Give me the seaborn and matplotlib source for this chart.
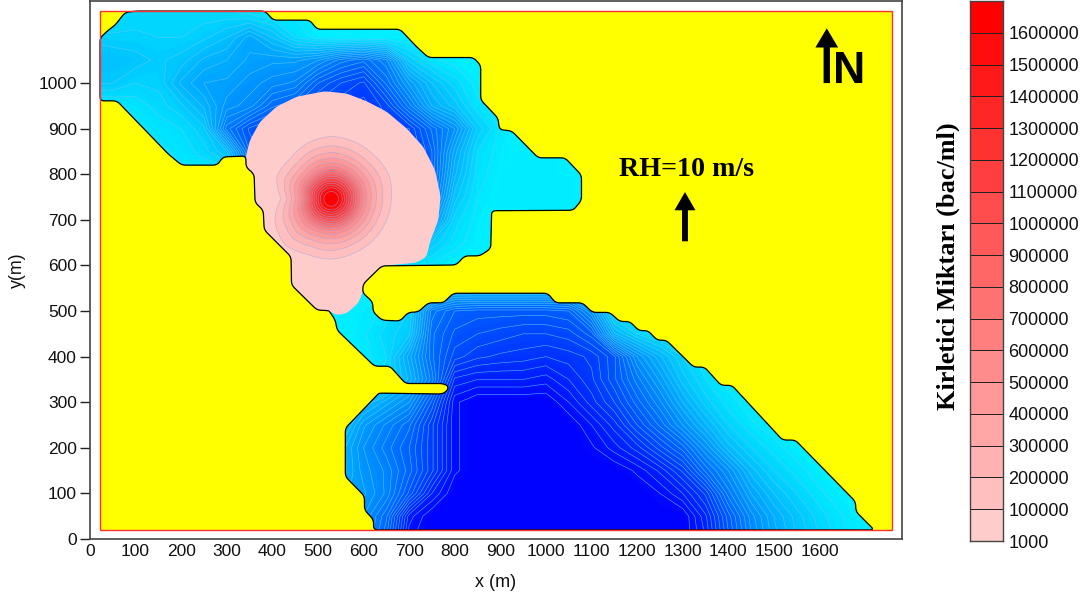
import numpy as np
import matplotlib
matplotlib.use("Agg")
import matplotlib.pyplot as plt
from matplotlib.patches import Polygon, Rectangle
from matplotlib.colors import ListedColormap, LinearSegmentedColormap
import seaborn as sns

# ---------- data ----------
lake_x = [22,40,55,77,102,384,402,482,498,680,716,742,841,857,857,895,898,925,983,1042,1078,1078,1060,881,879,855,822,803,640,599,598,620,621,640,680,698,720,742,775,797,1004,1021,1080,1102,1140,1162,1184,1204,1224,1244,1264,1324,1348,1384,1408,1519,1547,1679,1680,1720,622,622,602,602,560,560,630,634,773,785,785,773,692,658,624,542,538,526,523,498,442,441,382,380,362,360,342,342,292,279,201,172,59,22]
lake_y = [1099,1116,1127,1155,1158,1158,1138,1138,1118,1118,1080,1056,1056,1039,963,923,898,895,836,836,798,743,721,720,637,621,621,601,599,559,540,520,498,480,478,497,498,518,518,539,539,518,518,497,497,477,477,457,457,436,436,377,377,337,337,217,217,82,60,20,20,42,64,94,137,243,316,320,318,327,336,341,341,379,379,458,480,498,501,502,557,619,678,721,738,800,816,840,838,820,820,844,961,961]

plume_x = [342,351,373,409,453,515,563,607,651,695,731,757,769,764,746,738,716,640,599,598,588,563,541,523,498,442,441,382,380,362,360,342]
plume_y = [840,875,915,948,970,982,977,960,937,900,860,809,751,700,652,619,606,599,559,540,517,495,491,501,502,557,619,678,721,738,800,816]

grid_x = np.arange(0, 1850, 50)
grid_y = np.arange(0, 1250, 50)
# (first x of the row, colour depth values every 50 m; 0 = cyan, 1 = full blue)
row_1150 = (50, [.08,.1,.1,.1,.1,.1,.08,.05,.03])
row_1100 = (0, [.15,.13,.13,.12,.12,.15,.2,.3,.2,.08,.02])
row_1050 = (0, [.2,.2,.18,.15,.18,.25,.28,.33,.35,.35,.4,.5,.55,.45,.15,.05,.02])
row_1000 = (0, [.17,.16,.12,.13,.25,.32,.33,.38,.42,.45,.6,.68,.73,.55,.35,.2,.1,.02])
row_950 = (50, [.03,.05,.1,.15,.25,.38,.42,.55,.6,.7,.75,.78,.7,.5,.28,.18,.05,.02])
row_900 = (100, [.03,.05,.08,.15,.5,.65,.7,.72,.75,.75,.75,.72,.72,.55,.4,.15,.03])
row_850 = (150, [.03,.05,.1,.2,.6,.7,.75,.75,.75,.75,.75,.75,.6,.3,.08,.02])
row_800 = (200, [.03,.03,.03,.5,.6,.7,.7,.7,.7,.7,.7,.6,.25,.06,.01])
row_750 = (400, [.6,.6,.6,.6,.6,.6,.6,.55,.18,.04])
row_700 = (700, [.5,.4,.1,.02])
row_650 = (700, [.3,.15,.06,.01])
row_600 = (650, [.02,.05,.03])
row_550 = (600, [.02,0,.02,.1,.2,.2,.2,.2,.2,.2,.1])
row_500 = (550, [.02,.02,.05,.12,.5,.6,.62,.62,.62,.62,.6,.4,.05])
row_450 = (600, [.03,.1,.15,.55,.65,.68,.7,.72,.72,.7,.62,.25,.12,.05])
row_400 = (600, [.02,.08,.3,.55,.7,.75,.77,.78,.8,.78,.75,.65,.4,.25,.12,.04])
row_350 = (650, [.1,.25,.5,.85,.88,.88,.88,.9,.84,.77,.65,.5,.35,.18,.08,.02])
row_300 = (600, [.2,.3,.4,.65,.95,1,1,1,1,.92,.82,.72,.58,.45,.28,.14,.06,.01])
row_250 = (550, [.15,.35,.45,.55,.75,.95,1,1,1,1,1,.92,.82,.68,.55,.4,.25,.12,.05,.01])
row_200 = (550, [.25,.4,.5,.6,.75,.95,1,1,1,1,1,.97,.9,.82,.7,.58,.4,.22,.12,.06,.01])
row_150 = (550, [.25,.38,.45,.58,.75,.95,1,1,1,1,1,1,1,.95,.87,.75,.55,.4,.22,.12,.06,.01])
row_100 = (550, [.3,.35,.45,.65,.88,1,1,1,1,1,1,1,1,1,.96,.88,.75,.5,.32,.2,.12,.05,.01])
row_50 = (550, [.35,.4,.55,.9,1,1,1,1,1,1,1,1,1,1,1,1,.85,.62,.42,.28,.18,.1,.04])
row_0 = (550, [.35,.4,.6,.95,1,1,1,1,1,1,1,1,1,1,1,1,.88,.65,.45,.3,.2,.12,.05,.01])
depth_rows = {1150: row_1150, 1100: row_1100, 1050: row_1050, 1000: row_1000, 950: row_950, 900: row_900,
              850: row_850, 800: row_800, 750: row_750, 700: row_700, 650: row_650, 600: row_600,
              550: row_550, 500: row_500, 450: row_450, 400: row_400, 350: row_350, 300: row_300,
              250: row_250, 200: row_200, 150: row_150, 100: row_100, 50: row_50, 0: row_0}

ring_radius = [132,113,99,88,78,70,64,59,54,49,44,39,34,29,24,16]
shape_angle = [0,22.5,45,67.5,90,112.5,135,157.5,180,202.5,225,247.5,270,292.5,315,337.5,360]
shape_radius = [132,137,134,135,137,133,126,129,110,134,143,132,132,129,129,130,132]
plume_centre = (529, 746)

cbar_labels = ["1000","100000","200000","300000","400000","500000","600000","700000","800000",
               "900000","1000000","1100000","1200000","1300000","1400000","1500000","1600000"]

# ---------- helpers ----------
def rounded(xs, ys, cut=9.0):
    """Round each corner of a closed outline over a short fixed distance."""
    pts = np.column_stack([xs, ys]).astype(float)
    out = []
    n = len(pts)
    for k in range(n):
        p0, p1, p2 = pts[k-1], pts[k], pts[(k+1) % n]
        l0, l2 = np.linalg.norm(p0-p1), np.linalg.norm(p2-p1)
        if l0 == 0 or l2 == 0:
            out.append(p1)
            continue
        a = p1 + (p0-p1) * min(cut, 0.45*l0) / l0
        b = p1 + (p2-p1) * min(cut, 0.45*l2) / l2
        for t in np.linspace(0, 1, 6):
            out.append((1-t)**2*a + 2*t*(1-t)*p1 + t**2*b)
    return np.array(out)

# ---------- style ----------
sns.set_theme(style="ticks", font="Liberation Sans")
plt.rcParams["font.family"] = ["Liberation Sans", "DejaVu Sans"]
reds = sns.blend_palette(["#FFCCCC", "#FF0000"], 17)
water_cmap = LinearSegmentedColormap.from_list("water", ["#00F0FF", "#0000FF"])

W, H = 1092, 601
fig = plt.figure(figsize=(W/100, H/100), dpi=100, facecolor="white")
ax = fig.add_axes([90/W, (H-539)/H, 812/W, 538/H])
ax.set_xlim(0, 1781)
ax.set_ylim(0, 1180)

ax.add_patch(Rectangle((21, 20), 1738, 1139, fc="#FFFF00", ec="none", zorder=1))

depth = np.zeros((grid_y.size, grid_x.size))
for y_val, (x_start, vals) in depth_rows.items():
    j = int(np.where(grid_y == y_val)[0][0])
    i = int(np.where(grid_x == x_start)[0][0])
    depth[j, i:i+len(vals)] = vals

coast_pts = rounded(lake_x, lake_y)
lake = Polygon(coast_pts, closed=True, fc="#00F0FF", ec="none", zorder=2)
ax.add_patch(lake)
cf = ax.contourf(grid_x, grid_y, depth, levels=np.linspace(0, 1.001, 51), cmap=water_cmap, zorder=3)
cf.set_clip_path(lake)
cl = ax.contour(grid_x, grid_y, depth, levels=np.arange(0.04, 1.0, 0.04),
                colors="#66CCFF", linewidths=0.4, alpha=0.85, zorder=4)
cl.set_clip_path(lake)

# plume
plume_poly = Polygon(rounded(plume_x, plume_y), closed=True, fc=reds[0], ec="none", zorder=5)
ax.add_patch(plume_poly)
theta = np.radians(np.arange(0, 361, 3))
for i, r in enumerate(ring_radius):
    s = np.interp(np.degrees(theta), shape_angle, shape_radius) / 132
    rr = r * (1 + (s - 1) * r / 132)
    ring = ax.fill(plume_centre[0] + rr*np.cos(theta), plume_centre[1] + rr*np.sin(theta),
                   fc=reds[i+1], ec=(0.60, 0.65, 0.86, 0.65), lw=0.45, zorder=6+i*0.01)[0]
    ring.set_clip_path(lake)

# coast and domain frame
ax.add_patch(Polygon(coast_pts, closed=True, fc="none", ec="black", lw=0.9, zorder=8))
ax.add_patch(Rectangle((21, 20), 1738, 1139, fc="none", ec="#FF3030", lw=1.0, zorder=9))

# arrows + texts
ax.arrow(1305, 653, 0, 108, width=13, head_width=46, head_length=40, length_includes_head=True,
         fc="black", ec="none", zorder=10)
ax.arrow(1616, 1000, 0, 120, width=14, head_width=50, head_length=42, length_includes_head=True,
         fc="black", ec="none", zorder=10)
ax.text(1630, 1000, "N", fontsize=32, fontweight="bold", ha="left", va="baseline", zorder=10, color="black")
ax.text(1309, 811, "RH=10 m/s", fontsize=20.2, fontweight="bold", family="Liberation Serif",
        ha="center", va="center", zorder=10, color="black")

ax.set_xticks(np.arange(0, 1700, 100))
ax.set_yticks(np.arange(0, 1100, 100))
ax.tick_params(axis="y", length=7.5, width=1, labelsize=12.5, color="#222222", labelcolor="#111111", pad=2)
ax.tick_params(axis="x", length=0, labelsize=12.5, labelcolor="#111111", pad=3.5)
for sp in ax.spines.values():
    sp.set_color("#444444")
    sp.set_linewidth(1.2)
ax.set_xlabel("x (m)", fontsize=13, labelpad=11, color="#111111")
ax.set_ylabel("y(m)", fontsize=12.8, labelpad=9, color="#111111")

# colour scale
cax = fig.add_axes([970/W, (H-541)/H, 33/W, 540/H])
cells = np.arange(17).reshape(17, 1)
sns.heatmap(cells, ax=cax, cmap=ListedColormap(reds), cbar=False, linewidths=0.7, linecolor="#222222",
            xticklabels=False, yticklabels=False)
cax.set_ylim(0, 17)
cax.set_yticks(np.arange(17))
cax.set_yticklabels(cbar_labels, rotation=0, fontsize=13)
cax.yaxis.tick_right()
cax.tick_params(axis="y", length=0, pad=4, labelcolor="#111111")
for sp in cax.spines.values():
    sp.set_visible(True)
    sp.set_color("#444444")
    sp.set_linewidth(1)
fig.text(948/W, (H-266)/H, "Kirletici Miktarı (bac/ml)", rotation=90, fontsize=18.9, fontweight="bold",
         family="Liberation Serif", ha="center", va="center", color="black")

fig.savefig("out.png", dpi=100)
